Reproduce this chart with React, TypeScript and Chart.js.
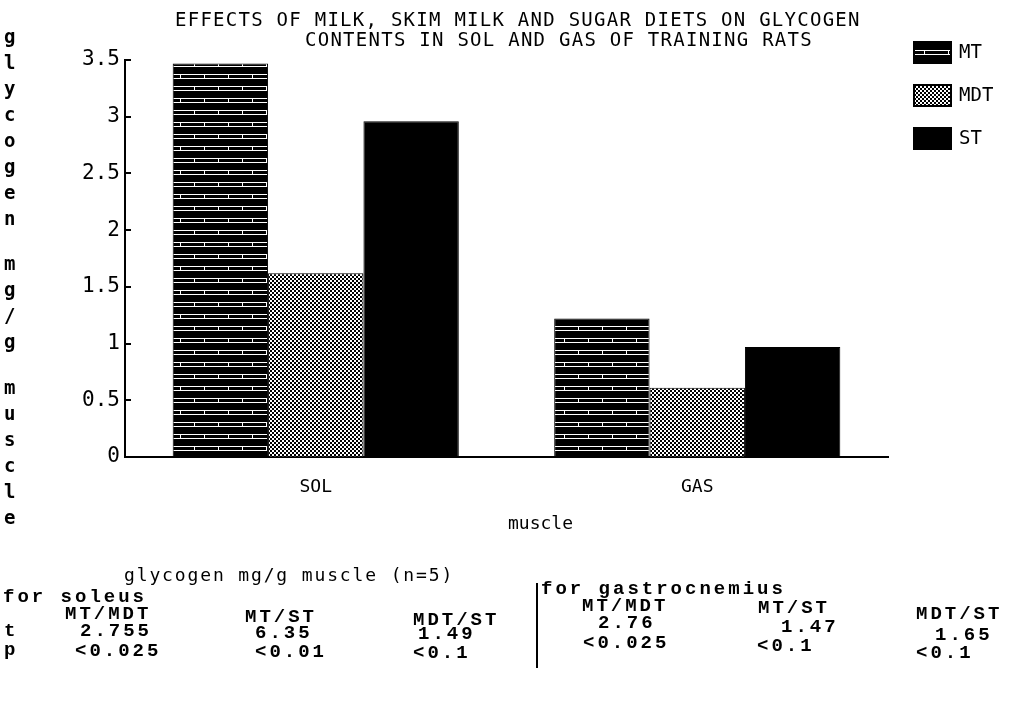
import React, { useEffect, useRef } from "react";
import { Chart, registerables } from "chart.js";

Chart.register(...registerables);

const categories = ["SOL", "GAS"];
const seriesLabels = ["MT", "MDT", "ST"];
const mtValues = [3.47, 1.22];
const mdtValues = [1.62, 0.61];
const stValues = [2.96, 0.97];
const yMin = 0;
const yMax = 3.5;
const yStep = 0.5;

const titleLines = [
  "EFFECTS OF MILK, SKIM MILK AND SUGAR DIETS ON GLYCOGEN",
  "CONTENTS IN SOL AND GAS OF TRAINING RATS",
];
const yAxisTitle = "glycogen mg/g muscle";
const xAxisTitle = "muscle";
const tableCaption = "glycogen mg/g muscle (n=5)";
const soleusTitle = "for soleus";
const gastroTitle = "for gastrocnemius";
const pairHeaders = ["MT/MDT", "MT/ST", "MDT/ST"];
const rowLabels = ["t", "p"];
const soleusT = ["2.755", "6.35", "1.49"];
const soleusP = ["<0.025", "<0.01", "<0.1"];
const gastroT = ["2.76", "1.47", "1.65"];
const gastroP = ["<0.025", "<0.1", "<0.1"];

const PLOT_FONT = "'DejaVu Sans Mono', monospace";
const TABLE_FONT = "'Liberation Mono', 'DejaVu Sans Mono', monospace";

function brickPattern(ctx: CanvasRenderingContext2D) {
  const c = document.createElement("canvas");
  c.width = 48;
  c.height = 24;
  const g = c.getContext("2d")!;
  g.fillStyle = "#000";
  g.fillRect(0, 0, 48, 24);
  g.fillStyle = "#fff";
  g.fillRect(0, 2, 48, 1);
  g.fillRect(0, 6, 48, 1);
  g.fillRect(12, 2, 1, 5);
  g.fillRect(36, 2, 1, 5);
  g.fillRect(0, 14, 48, 1);
  g.fillRect(0, 18, 48, 1);
  g.fillRect(2, 14, 1, 5);
  g.fillRect(26, 14, 1, 5);
  return ctx.createPattern(c, "repeat")!;
}

function dotPattern(ctx: CanvasRenderingContext2D) {
  const c = document.createElement("canvas");
  c.width = 4;
  c.height = 4;
  const g = c.getContext("2d")!;
  g.fillStyle = "#fff";
  g.fillRect(0, 0, 4, 4);
  g.fillStyle = "#000";
  g.fillRect(0, 0, 2, 2);
  g.fillRect(2, 2, 2, 2);
  return ctx.createPattern(c, "repeat")!;
}

const Txt = ({
  x,
  y,
  children,
  font,
  size,
  spacing,
  bold,
}: {
  x: number;
  y: number;
  children: React.ReactNode;
  font: string;
  size: number;
  spacing: number;
  bold?: boolean;
}) => (
  <div
    style={{
      position: "absolute",
      left: x,
      top: y - size / 2,
      fontFamily: font,
      fontSize: size,
      lineHeight: `${size}px`,
      letterSpacing: spacing,
      fontWeight: bold ? "bold" : "normal",
      whiteSpace: "pre",
      color: "#000",
    }}
  >
    {children}
  </div>
);

export default function App() {
  const canvasRef = useRef<HTMLCanvasElement>(null);

  useEffect(() => {
    const canvas = canvasRef.current!;
    const ctx = canvas.getContext("2d")!;
    const fills = [brickPattern(ctx), dotPattern(ctx), "#000"];
    const values = [mtValues, mdtValues, stValues];

    const innerTicks = {
      id: "innerTicks",
      afterDraw(chart: any) {
        const c = chart.ctx;
        const y = chart.scales.y;
        c.save();
        c.strokeStyle = "#000";
        c.lineWidth = 2;
        y.ticks.forEach((t: any) => {
          const py = Math.round(y.getPixelForValue(t.value));
          c.beginPath();
          c.moveTo(chart.chartArea.left, py);
          c.lineTo(chart.chartArea.left + 6, py);
          c.stroke();
        });
        c.restore();
      },
    };

    const legendBoxes = {
      id: "legendBoxes",
      afterDraw(chart: any) {
        const c = chart.ctx;
        c.save();
        chart.data.datasets.forEach((ds: any, i: number) => {
          const bx = 914;
          const by = 42 + i * 43;
          c.fillStyle = ds.backgroundColor;
          c.fillRect(bx, by, 37, 21);
          c.strokeStyle = "#000";
          c.lineWidth = 2;
          c.strokeRect(bx, by, 37, 21);
          c.fillStyle = "#000";
          c.font = `19px ${PLOT_FONT}`;
          c.textBaseline = "middle";
          c.textAlign = "left";
          c.fillText(ds.label, 959, by + 11);
        });
        c.restore();
      },
    };

    const chart = new Chart(canvas, {
      type: "bar",
      data: {
        labels: categories,
        datasets: seriesLabels.map((label, i) => ({
          label,
          data: values[i],
          backgroundColor: fills[i] as any,
          borderColor: "#000",
          borderWidth: 1,
          categoryPercentage: 0.75,
          barPercentage: 1.0,
        })),
      },
      options: {
        animation: false,
        responsive: false,
        devicePixelRatio: 1,
        layout: { padding: { left: 0, right: 132, top: 60, bottom: 0 } },
        plugins: {
          legend: { display: false },
          title: { display: false },
          tooltip: { enabled: false },
        },
        scales: {
          x: {
            type: "category",
            grid: { display: false },
            border: { display: true, color: "#000", width: 2 },
            ticks: {
              color: "#000",
              font: { family: PLOT_FONT, size: 18 },
              padding: 12,
            },
            afterFit: (scale: any) => {
              scale.height = 247;
            },
          },
          y: {
            min: yMin,
            max: yMax,
            grid: { display: true, drawOnChartArea: false, drawTicks: false },
            border: { display: true, color: "#000", width: 2 },
            ticks: {
              stepSize: yStep,
              color: "#000",
              padding: 5,
              font: { family: PLOT_FONT, size: 21 },
              callback: (v: any) => String(v),
            },
            afterFit: (scale: any) => {
              scale.width = 125;
            },
          },
        },
      },
      plugins: [innerTicks, legendBoxes],
    });
    return () => chart.destroy();
  }, []);

  const yLetters: { ch: string; y: number }[] = [];
  let yy = 36;
  yAxisTitle.split("").forEach((ch) => {
    if (ch === " ") {
      yy += 45.5 - 26;
      return;
    }
    yLetters.push({ ch, y: yy });
    yy += 26;
  });

  const tableSize = 19;
  const tableSpacing = 3;
  const T = (x: number, y: number, s: string) => (
    <Txt x={x} y={y} font={TABLE_FONT} size={tableSize} spacing={tableSpacing} bold>
      {s}
    </Txt>
  );

  return (
    <div
      style={{
        position: "fixed",
        left: 0,
        top: 0,
        width: 1020,
        height: 704,
        background: "#fff",
        overflow: "hidden",
      }}
    >
      <canvas
        ref={canvasRef}
        width={1020}
        height={704}
        style={{ position: "absolute", left: 0, top: 0, width: 1020, height: 704 }}
      />
      <Txt x={175} y={19} font={PLOT_FONT} size={19} spacing={1.26}>
        {titleLines[0]}
      </Txt>
      <Txt x={305} y={39} font={PLOT_FONT} size={19} spacing={1.26}>
        {titleLines[1]}
      </Txt>
      {yLetters.map((l, i) => (
        <Txt key={i} x={4} y={l.y} font={PLOT_FONT} size={19} spacing={0} bold>
          {l.ch}
        </Txt>
      ))}
      <Txt x={508} y={523} font={PLOT_FONT} size={18} spacing={0}>
        {xAxisTitle}
      </Txt>
      <Txt x={124} y={575} font={PLOT_FONT} size={18} spacing={1.86}>
        {tableCaption}
      </Txt>

      {T(3, 597, soleusTitle)}
      {T(65, 614, pairHeaders[0])}
      {T(245, 617, pairHeaders[1])}
      {T(413, 620, pairHeaders[2])}
      {T(4, 631, rowLabels[0])}
      {T(80, 631, soleusT[0])}
      {T(255, 633, soleusT[1])}
      {T(418, 634, soleusT[2])}
      {T(4, 650, rowLabels[1])}
      {T(75, 651, soleusP[0])}
      {T(255, 652, soleusP[1])}
      {T(413, 653, soleusP[2])}

      <div
        style={{
          position: "absolute",
          left: 536,
          top: 583,
          width: 2,
          height: 85,
          background: "#000",
        }}
      />
      {T(541, 589, gastroTitle)}
      {T(582, 606, pairHeaders[0])}
      {T(758, 608, pairHeaders[1])}
      {T(916, 614, pairHeaders[2])}
      {T(598, 623, gastroT[0])}
      {T(781, 627, gastroT[1])}
      {T(935, 635, gastroT[2])}
      {T(583, 643, gastroP[0])}
      {T(757, 646, gastroP[1])}
      {T(916, 653, gastroP[2])}
    </div>
  );
}
